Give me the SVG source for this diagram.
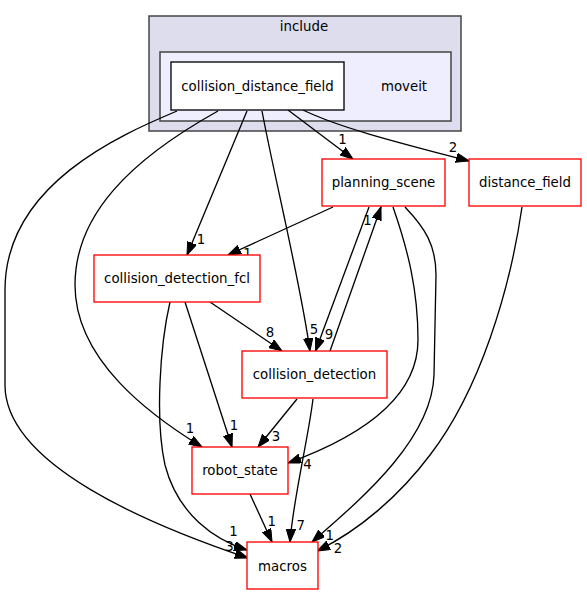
<svg xmlns="http://www.w3.org/2000/svg" width="587" height="596" viewBox="0 0 587 596">
<style>
text { font-family: "DejaVu Sans", "Liberation Sans", sans-serif; font-size: 13.33px; fill: #000; text-anchor: middle; }
.cluster-outer { fill: #ddddee; stroke: #444; stroke-width: 1.5; }
.cluster-inner { fill: #eeeeff; stroke: #444; stroke-width: 1.5; }
.node rect { fill: #fff; stroke: #ff0000; stroke-width: 1.33; }
.node.main rect { stroke: #000; }
.edges path { fill: none; stroke: #000; stroke-width: 1.33; marker-end: url(#arrow); }
.edges text { font-size: 13.33px; }
</style>
<defs>
<marker id="arrow" markerUnits="userSpaceOnUse" markerWidth="14" markerHeight="10" refX="13" refY="4.7" orient="auto" viewBox="0 0 14 10">
<path d="M0,0 L13,4.7 L0,9.4 z" fill="#000" stroke="#000" stroke-width="1"/>
</marker>
</defs>
<rect width="587" height="596" fill="#fff"/>
<g id="cluster-include">
<rect class="cluster-outer" x="149" y="16" width="312" height="115"/>
<text x="304" y="31">include</text>
</g>
<g id="cluster-moveit">
<rect class="cluster-inner" x="160" y="52" width="291" height="69"/>
<text x="404" y="90.5">moveit</text>
</g>
<g id="edges" class="edges">
<path d="M177,111 C120,135 5,185 5,290 L5,385 C5,465 150,525 248,558"/>
<text x="229.5" y="550.5">3</text>
<path d="M218,111 C130,160 75,215 75,285 C75,360 150,415 202,447"/>
<text x="190" y="433">1</text>
<path d="M247,111 L187,255"/>
<text x="201" y="244">1</text>
<path d="M262,111 C275,180 300,280 310,351"/>
<text x="314" y="334">5</text>
<path d="M288,110 L353,159"/>
<text x="342.5" y="144">1</text>
<path d="M303,110 C340,128 400,143 469,161"/>
<text x="453" y="152">2</text>
<path d="M333,207 L228,255"/>
<text x="247.5" y="258">1</text>
<path d="M369,207 L315.5,351"/>
<text x="329" y="339">9</text>
<path d="M330,351 L381,207"/>
<text x="367.5" y="225">1</text>
<path d="M210,302 L282,351"/>
<text x="270" y="337">8</text>
<path d="M185,302 L232,447"/>
<text x="234" y="430">1</text>
<path d="M170,302 C160,345 155,420 165,465 C178,515 215,540 247,550"/>
<text x="233.5" y="536">1</text>
<path d="M297,399 L258,447"/>
<text x="276" y="441">3</text>
<path d="M313,399 C308,440 293,500 290,542"/>
<text x="300.7" y="530">7</text>
<path d="M250,494 L272,542"/>
<text x="271.7" y="525.7">1</text>
<path d="M393,207 C408,250 418,290 418,340 C418,395 365,435 288,463"/>
<text x="307.5" y="469">4</text>
<path d="M405,207 C425,228 436,245 436,275 L434,375 C432,440 360,500 312,542"/>
<text x="329.7" y="540">1</text>
<path d="M522,207 C510,290 480,390 430,455 C400,495 360,530 317,551"/>
<text x="338" y="553">2</text>
</g>
<g id="node-collision_distance_field" class="node main">
<rect x="171" y="62" width="173" height="48"/>
<text x="257.5" y="90.5">collision_distance_field</text>
</g>
<g id="node-planning_scene" class="node">
<rect x="322" y="159" width="123" height="47"/>
<text x="383.5" y="187">planning_scene</text>
</g>
<g id="node-distance_field" class="node">
<rect x="469" y="159" width="112" height="47"/>
<text x="525" y="187">distance_field</text>
</g>
<g id="node-collision_detection_fcl" class="node">
<rect x="94" y="255" width="166" height="47"/>
<text x="177" y="283">collision_detection_fcl</text>
</g>
<g id="node-collision_detection" class="node">
<rect x="242" y="351" width="145" height="47"/>
<text x="314.5" y="379">collision_detection</text>
</g>
<g id="node-robot_state" class="node">
<rect x="192" y="447" width="96" height="47"/>
<text x="240" y="475">robot_state</text>
</g>
<g id="node-macros" class="node">
<rect x="247" y="542" width="71" height="47"/>
<text x="282.5" y="571">macros</text>
</g>
</svg>
